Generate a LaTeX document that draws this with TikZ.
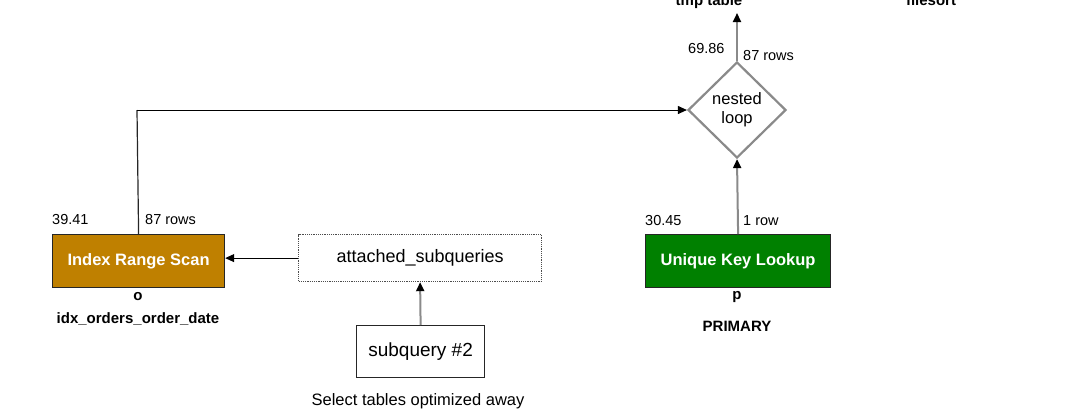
\documentclass[tikz,border=0pt]{standalone}
\usepackage{fontspec}
\setmainfont{Liberation Sans}
\usetikzlibrary{shapes.geometric,arrows.meta}
\definecolor{irs}{HTML}{BF8000}
\definecolor{ukl}{HTML}{008000}
\definecolor{lgray}{HTML}{8A8A8A}
\tikzset{
  opbox/.style={draw=black!85, line width=1.2pt, minimum height=53pt, inner sep=0pt, text=white, font=\fontsize{16.5}{19}\selectfont\bfseries},
  plainbox/.style={draw=black!85, line width=1.2pt, inner sep=0pt, font=\fontsize{18}{21}\selectfont},
  small/.style={font=\fontsize{14.5}{17}\selectfont, inner sep=0pt},
  smallb/.style={font=\fontsize{15}{17}\selectfont\bfseries, inner sep=0pt},
  conn/.style={draw=lgray, line width=2pt, -{Triangle[length=9pt,width=8pt,fill=black,color=black]}},
  thinconn/.style={draw=black, line width=1pt, -{Triangle[length=9pt,width=8pt,fill=black]}},
}
\begin{document}
\begin{tikzpicture}[x=1pt,y=-1pt]
\useasboundingbox (0,0) rectangle (1075,418);
\clip (0,0) rectangle (1075,418);
% nodes
\node[opbox, fill=irs, minimum width=172pt, anchor=north west] (irs) at (52,234) {Index Range Scan};
\node[opbox, fill=ukl, minimum width=185pt, anchor=north west] (ukl) at (645,234) {Unique Key Lookup};
\node[plainbox, draw=black!70, densely dotted, minimum width=243pt, minimum height=47pt, anchor=north west] (att) at (298,234) {attached\_subqueries};
\node[plainbox, font=\fontsize{19}{22}\selectfont, minimum width=128pt, minimum height=52pt, anchor=north west] (sub) at (356,325) {subquery \#2};
\node[diamond, draw=lgray, line width=2.2pt, minimum width=98pt, minimum height=96pt, inner sep=0pt, align=center, font=\fontsize{16.5}{19}\selectfont] (nl) at (737,110) {nested\\loop};
\coordinate (top) at (737,13);
\coordinate (corner) at (137,110);
% labels
\node[small, anchor=west] (l1) at (52,220) {39.41};
\node[small, anchor=west] (l2) at (145,220) {87 rows};
\node[smallb] (l3) at (138,297) {o};
\node[smallb] (l4) at (138,319) {idx\_orders\_order\_date};
\node[small, anchor=west] (l5) at (645,221) {30.45};
\node[small, anchor=west] (l6) at (743,221) {1 row};
\node[smallb] (l7) at (737,297) {p};
\node[smallb] (l8) at (737,326) {PRIMARY};
\node[small, anchor=west] (l9) at (688,49) {69.86};
\node[small, anchor=west] (l10) at (743,56) {87 rows};
\node[font=\fontsize{16.5}{19}\selectfont, inner sep=0pt] (l11) at (418,401) {Select tables optimized away};
\node[smallb, anchor=base] (tmp) at (709,5) {tmp table};
\node[smallb, anchor=base] (fs) at (931,5) {filesort};
% connectors
\draw[draw=black!85, line width=1.2pt] (irs.north) -- (corner);
\draw[thinconn] (corner) -- (nl.west);
\draw[conn] (ukl.north) -- (nl.south);
\draw[conn] (nl.north) -- (top);
\draw[thinconn] (att.west) -- (att.west -| irs.east);
\draw[conn] (sub.north) -- (att.south);
\end{tikzpicture}
\end{document}
